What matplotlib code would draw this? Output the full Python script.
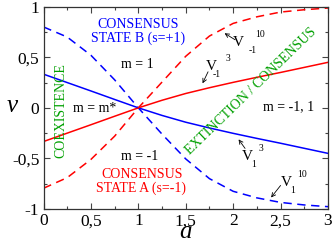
import matplotlib
matplotlib.use("Agg")
import matplotlib.pyplot as plt
from matplotlib.ticker import MultipleLocator, FuncFormatter

# ---- data ----
a_vals = [0, 0.25, 0.5, 0.75, 1.0, 1.25, 1.5, 1.75, 2.0, 2.25, 2.5, 2.75, 3.0]
v1_m3 = [0.333, 0.25, 0.167, 0.083, 0.0, -0.075, -0.142, -0.199, -0.252, -0.302, -0.35, -0.40, -0.45]
vm1_m3 = [-0.333, -0.25, -0.167, -0.083, 0.0, 0.075, 0.142, 0.199, 0.252, 0.302, 0.35, 0.40, 0.45]
v1_m10 = [0.80, 0.70, 0.52, 0.277, 0.0, -0.26, -0.505, -0.70, -0.825, -0.89, -0.935, -0.96, -0.977]
vm1_m10 = [-0.795, -0.69, -0.51, -0.28, 0.0, 0.255, 0.51, 0.71, 0.835, 0.90, 0.947, 0.97, 0.987]

x_ticks = [0, 0.5, 1, 1.5, 2, 2.5, 3]
y_ticks = [-1, -0.5, 0, 0.5, 1]

plt.rcParams['font.family'] = ['Liberation Serif', 'DejaVu Serif']
plt.rcParams['lines.scale_dashes'] = False

W, H = 332, 242
fig = plt.figure(figsize=(W / 100, H / 100), dpi=100)
ax = fig.add_axes([43.5 / W, 1 - 209 / H, (328 - 43.5) / W, (209 - 6.7) / H])

BLUE = '#0000ff'
RED = '#ff0000'
GREEN = '#00a000'
lw = 1.1
ax.plot(a_vals, v1_m3, color=BLUE, lw=lw)
ax.plot(a_vals, vm1_m3, color=RED, lw=lw)
ax.plot(a_vals, v1_m10, color=BLUE, lw=lw, dashes=(6, 4))
ax.plot(a_vals, vm1_m10, color=RED, lw=lw, dashes=(6, 4))

ax.set_xlim(0, 3)
ax.set_ylim(-1, 1)
ax.set_xticks(x_ticks)
ax.set_yticks(y_ticks)
fmt = FuncFormatter(lambda v, p: ('%g' % v).replace('.', ','))
ax.xaxis.set_major_formatter(fmt)
ax.yaxis.set_major_formatter(fmt)
ax.xaxis.set_minor_locator(MultipleLocator(0.25))
ax.yaxis.set_minor_locator(MultipleLocator(0.25))
ax.tick_params(which='both', direction='in', top=True, right=True, labelsize=12.5,
               width=0.8, colors='#444444', labelcolor='black')
ax.tick_params(which='major', length=4, pad=3)
ax.tick_params(which='minor', length=2.5)
for s in ax.spines.values():
    s.set_linewidth(0.9)
    s.set_color('#333333')

ax.set_xlabel('a', fontsize=18, style='italic', va='center')
ax.set_ylabel('v', fontsize=18, style='italic', rotation=0, va='center', ha='center')
ax.xaxis.set_label_coords((185 - 43.5) / 284.5, (209 - 232.5) / 202.3)
ax.yaxis.set_label_coords((12 - 43.5) / 284.5, (209 - 106) / 202.3)

def px(x, y):
    return ((x - 43.5) / 94.8, (108 - y) / 101.0)

def txt(x, y, s, **kw):
    xx, yy = px(x, y)
    kw.setdefault('ha', 'center')
    kw.setdefault('va', 'center')
    kw.setdefault('fontsize', 10)
    ax.text(xx, yy, s, **kw)

txt(138, 25, 'CONSENSUS', color=BLUE)
txt(138.5, 38.5, 'STATE B (s=+1)', color=BLUE)
txt(137, 65, 'm = 1')
txt(94.5, 109, 'm = m*')
txt(140, 156.5, 'm = -1')
txt(142, 175, 'CONSENSUS', color=RED)
txt(141, 188.5, 'STATE A (s=-1)', color=RED)
txt(288, 107, 'm = -1, 1')
txt(60.5, 110.5, 'COEXISTENCE', color=GREEN, rotation=90)
txt(250.5, 91, 'EXTINCTION / CONSENSUS', color=GREEN, rotation=44, rotation_mode='anchor')

def label(vx, vy, sub, sup, subdx, supdx, tail, head):
    txt(vx, vy, 'V', fontsize=11)
    txt(vx + subdx, vy + 8, sub, fontsize=7)
    txt(vx + supdx, vy - 8, sup, fontsize=7)
    ax.annotate('', xy=px(*head), xytext=px(*tail),
                arrowprops=dict(arrowstyle='->', lw=0.6, color='black',
                                mutation_scale=7, shrinkA=0, shrinkB=0))

label(238, 43, '-1', '10', 15, 22, (235, 40), (224.5, 33.5))
label(211, 67, '-1', '3', 6, 17, (208, 72), (202.5, 83.5))
label(247, 157, '1', '3', 7, 14, (245, 148.5), (238.5, 139.5))
label(286, 183, '1', '10', 7, 16, (280.5, 185.5), (271, 197.5))

fig.savefig('out.png', dpi=100)
